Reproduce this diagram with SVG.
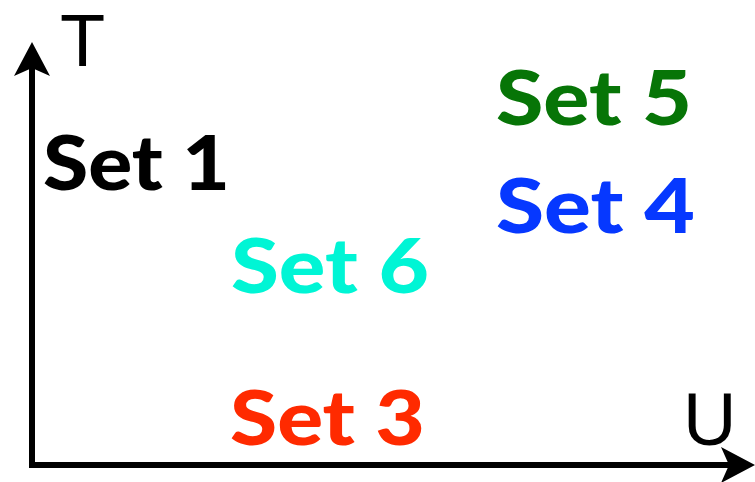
<svg xmlns="http://www.w3.org/2000/svg" width="755" height="482" viewBox="0 0 755 482">
<style>
.set{font-family:Lato,"Liberation Sans",Arial,sans-serif;font-weight:900;font-size:77px}
.ax{font-family:"Liberation Sans",Arial,sans-serif;font-weight:normal;font-size:74px;fill:#000}
.axis{stroke:#000;stroke-width:6;fill:none}
</style>
<defs>
<marker id="arr" markerUnits="userSpaceOnUse" viewBox="0 0 34 36" refX="8" refY="18" markerWidth="34" markerHeight="36" orient="auto">
<path d="M0,0 L34,18 L0,36 L8,18 Z" fill="#000"/>
</marker>
</defs>
<rect width="755" height="482" fill="#fff"/>
<g id="connectors">
<path class="axis" d="M32,468 L32,68" marker-end="url(#arr)"/>
<path class="axis" d="M29,465 L729,465" marker-end="url(#arr)"/>
</g>
<g id="axis-T"><text class="ax" x="60" y="66">T</text></g>
<g id="axis-U"><text class="ax" x="683" y="445">U</text></g>
<g id="set1"><text class="set" x="43" y="190" fill="#000" textLength="187" lengthAdjust="spacingAndGlyphs">Set 1</text></g>
<g id="set5"><text class="set" x="496" y="125" fill="#077507" textLength="196" lengthAdjust="spacingAndGlyphs">Set 5</text></g>
<g id="set4"><text class="set" x="496" y="233" fill="#0638ff" textLength="199" lengthAdjust="spacingAndGlyphs">Set 4</text></g>
<g id="set6"><text class="set" x="231" y="293" fill="#00f5d5" textLength="198" lengthAdjust="spacingAndGlyphs">Set 6</text></g>
<g id="set3"><text class="set" x="230" y="445" fill="#ff2a00" textLength="195" lengthAdjust="spacingAndGlyphs">Set 3</text></g>
</svg>
